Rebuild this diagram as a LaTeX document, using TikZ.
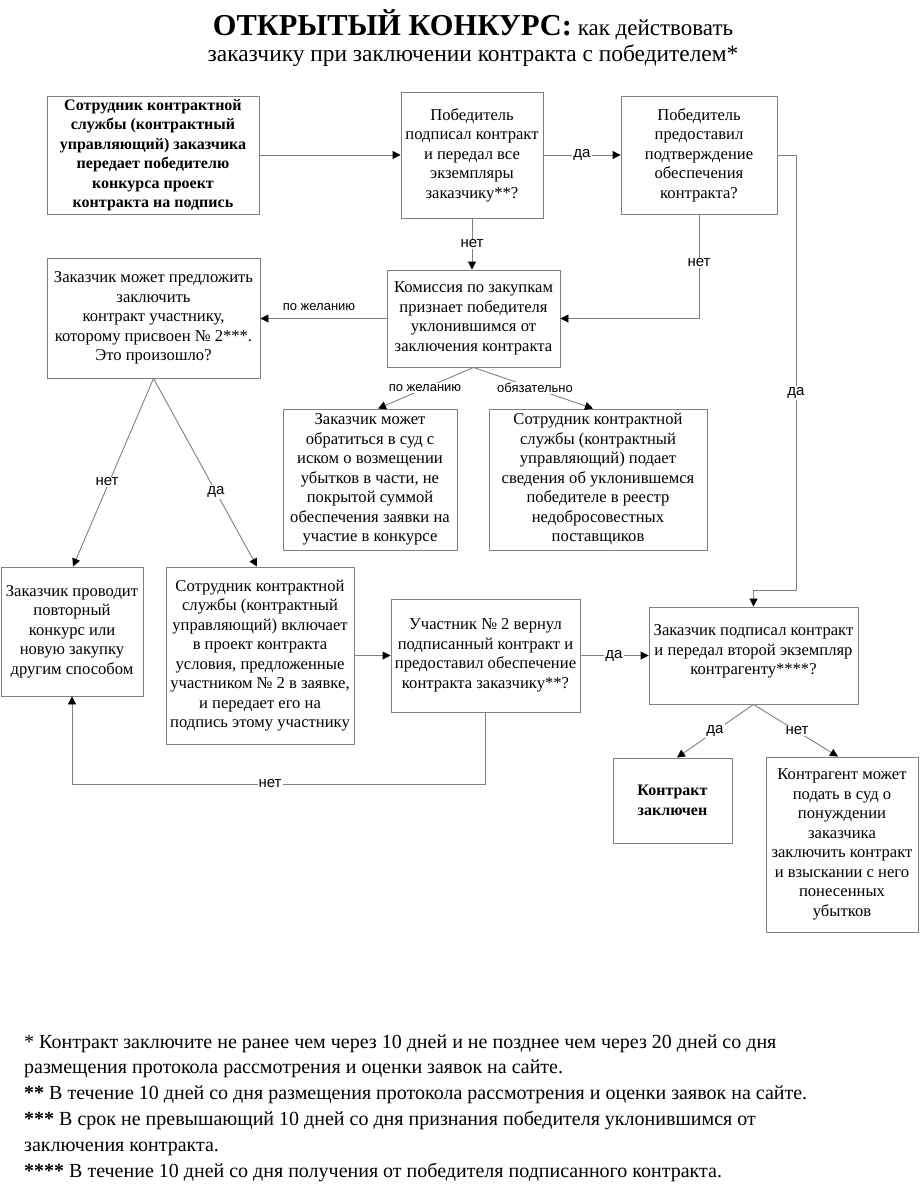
\documentclass[tikz,border=0pt]{standalone}
\usepackage{fontspec}
\setmainfont{Liberation Serif}
\newfontfamily\lblfont{Liberation Sans}
\usetikzlibrary{arrows.meta}
\definecolor{linegray}{RGB}{128,128,128}
\begin{document}
\begin{tikzpicture}[x=1pt,y=-1pt,
  box/.style={draw=linegray, line width=0.9pt, align=center, inner sep=2pt,
    font=\fontsize{16.6}{19.5}\selectfont},
  boldbox/.style={box, font=\fontsize{16}{19.5}\selectfont\bfseries},
  conn/.style={draw=linegray, line width=0.9pt},
  arr/.style={conn, -{Triangle[length=8pt,width=8pt,color=black]}},
  lbl/.style={fill=white, inner sep=1pt, font=\lblfont\fontsize{15}{17}\selectfont},
  slbl/.style={fill=white, inner sep=1pt, font=\lblfont\fontsize{13}{15}\selectfont},
  fnote/.style={anchor=base west, inner sep=0pt, font=\fontsize{20}{24}\selectfont}
]
\useasboundingbox (0,0) rectangle (920,1187);

% title
\node[anchor=base, inner sep=0pt] (t1) at (473,35)
  {{\fontsize{30.4}{36}\selectfont\bfseries ОТКРЫТЫЙ КОНКУРС:}{\fontsize{23}{28}\selectfont{} как действовать}};
\node[anchor=base, inner sep=0pt] (t2) at (473,61)
  {\fontsize{23.4}{28}\selectfont заказчику при заключении контракта с победителем*};

% boxes
\node[boldbox, minimum width=212, minimum height=118] (A) at (153,155)
  {Сотрудник контрактной\\службы (контрактный\\управляющий) заказчика\\передает победителю\\конкурса проект\\контракта на подпись};
\node[box, minimum width=142, minimum height=126] (B) at (472,155)
  {Победитель\\подписал контракт\\и передал все\\экземпляры\\заказчику**?};
\node[box, minimum width=156, minimum height=118] (C) at (699,155)
  {Победитель\\предоставил\\подтверждение\\обеспечения\\контракта?};
\node[box, minimum width=173, minimum height=97] (D) at (473.5,318.5)
  {Комиссия по закупкам\\признает победителя\\уклонившимся от\\заключения контракта};
\node[box, minimum width=213, minimum height=120] (E) at (153.5,318)
  {Заказчик может предложить\\заключить\\контракт участнику,\\которому присвоен №~2***.\\Это произошло?};
\node[box, minimum width=174, minimum height=141] (L) at (370,479.5)
  {Заказчик может\\обратиться в суд с\\иском о возмещении\\убытков в части, не\\покрытой суммой\\обеспечения заявки на\\участие в конкурсе};
\node[box, minimum width=218, minimum height=141] (M) at (598,479.5)
  {Сотрудник контрактной\\службы (контрактный\\управляющий) подает\\сведения об уклонившемся\\победителе в реестр\\недобросовестных\\поставщиков};
\node[box, minimum width=142, minimum height=129] (G) at (72,631.5)
  {Заказчик проводит\\повторный\\конкурс или\\новую закупку\\другим способом};
\node[box, minimum width=188, minimum height=177] (H) at (260,655.5)
  {Сотрудник контрактной\\службы (контрактный\\управляющий) включает\\в проект контракта\\условия, предложенные\\участником №~2 в заявке,\\и передает его на\\подпись этому участнику};
\node[box, minimum width=189, minimum height=113] (I) at (485.5,655.5)
  {Участник №~2 вернул\\подписанный контракт и\\предоставил обеспечение\\контракта заказчику**?};
\node[box, minimum width=209, minimum height=97] (F) at (753.5,655.5)
  {Заказчик подписал контракт\\и передал второй экземпляр\\контрагенту****?\\[-8pt]\mbox{}};
\node[boldbox, minimum width=119, minimum height=85] (J) at (672.5,800.5)
  {Контракт\\заключен};
\node[box, minimum width=152, minimum height=175] (K) at (842,844.5)
  {Контрагент может\\подать в суд о\\понуждении\\заказчика\\заключить контракт\\и взыскании с него\\понесенных\\убытков};

% connectors
\draw[arr] (A.east) -- (B.west);
\draw[arr] (B.east) -- (C.west);
\node[lbl] (l1) at (582,155) {да};
\draw[arr] (B.south) -- (B.south |- D.north);
\node[lbl] (l2) at (472,244) {нет};
\draw[arr] (C.south) |- (D.east);
\node[lbl] (l3) at (699,263) {нет};
\draw[arr] (C.east) -| (796,590) -| (F.north);
\node[lbl] (l4) at (796,393) {да};
\draw[arr] (D.west) -- (D.west -| E.east);
\node[slbl, fill=none] (l5) at (319,307) {по желанию};
\draw[arr] (D.south) -- ([xshift=8]L.north);
\node[slbl] (l6) at (425,388) {по желанию};
\draw[arr] (D.south) -- ([xshift=-5]M.north);
\node[slbl] (l7) at (535,388) {обязательно};
\draw[arr] (E.south) -- ([xshift=1]G.north);
\node[lbl] (l8) at (107,482) {нет};
\draw[arr] (E.south) -- ([xshift=-3]H.north);
\node[lbl] (l9) at (216,492) {да};
\draw[arr] (H.east) -- (I.west);
\draw[arr] (I.east) -- (F.west);
\node[lbl] (l10) at (614,656) {да};
\draw[arr] (I.south) -- ++(0,72) -| (G.south);
\node[lbl] (l11) at (270,784) {нет};
\draw[arr] (F.south) -- ([xshift=4.5]J.north);
\node[lbl] (l12) at (715,731) {да};
\draw[arr] (F.south) -- ([xshift=-4]K.north);
\node[lbl] (l13) at (797,731) {нет};

% footnotes
\node[fnote] (f1) at (24,1048) {* Контракт заключите не ранее чем через 10 дней и не позднее чем через 20 дней со дня};
\node[fnote] (f2) at (24,1073.5) {размещения протокола рассмотрения и оценки заявок на сайте.};
\node[fnote] (f3) at (24,1099) {\textbf{**} В течение 10 дней со дня размещения протокола рассмотрения и оценки заявок на сайте.};
\node[fnote] (f4) at (24,1125.5) {\textbf{***} В срок не превышающий 10 дней со дня признания победителя уклонившимся от};
\node[fnote] (f5) at (24,1151) {заключения контракта.};
\node[fnote] (f6) at (24,1177) {\textbf{****} В течение 10 дней со дня получения от победителя подписанного контракта.};
\end{tikzpicture}
\end{document}
